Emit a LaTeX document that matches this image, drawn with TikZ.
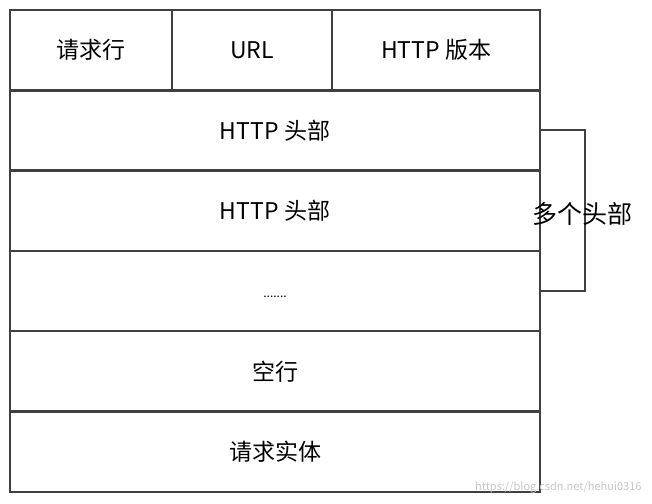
\documentclass[tikz,border=0pt]{standalone}
\usepackage{fontspec}
\setmainfont{Noto Sans CJK SC}
\usetikzlibrary{positioning}
\tikzset{every picture/.style={>=latex}}
\definecolor{edge}{HTML}{404040}
\begin{document}
\begin{tikzpicture}[
      x=1pt,y=-1pt,
      node distance=0pt,
      cell/.style={
        draw=edge,
        line width=2.5pt,
        minimum height=80.3pt,
        minimum width=#1,
        inner sep=0pt,
        outer sep=0pt,
        font=\fontsize{23}{26}\selectfont
      }]
      \useasboundingbox (0,0) rectangle (652,503);

      % Request line.
      \node[cell=162pt,anchor=north west] (line) at (10,10) {请求行};
      \node[cell=160pt,right=of line] (url) {URL};
      \node[cell=208pt,right=of url] (ver) {HTTP 版本};

      % Header rows and body.
      \node[cell=530pt,anchor=north west] (hdra) at (10,90.3) {HTTP 头部};
      \node[cell=530pt,below=of hdra] (hdrb) {HTTP 头部};
      \node[cell=530pt,below=of hdrb] (dots) {\raisebox{-1ex}{\fontsize{12}{14}\selectfont .......}};
      \node[cell=530pt,below=of dots] (blank) {空行};
      \node[cell=530pt,below=of blank] (body) {请求实体};

      % The brace for the headers.
      \draw[edge,line width=2pt] (hdra.east) -- ++(45,0) coordinate (ba)
        -- (ba |- dots.east) -- (dots.east);
      \node[font=\fontsize{25}{28}\selectfont] (many) at (582,214) {多个头部};

      % Watermark.
      \node[gray!45,font=\fontsize{11}{13}\selectfont,anchor=south east] (mark)
        at (645,497) {https://blog.csdn.net/hehui0316};
\end{tikzpicture}
\end{document}
